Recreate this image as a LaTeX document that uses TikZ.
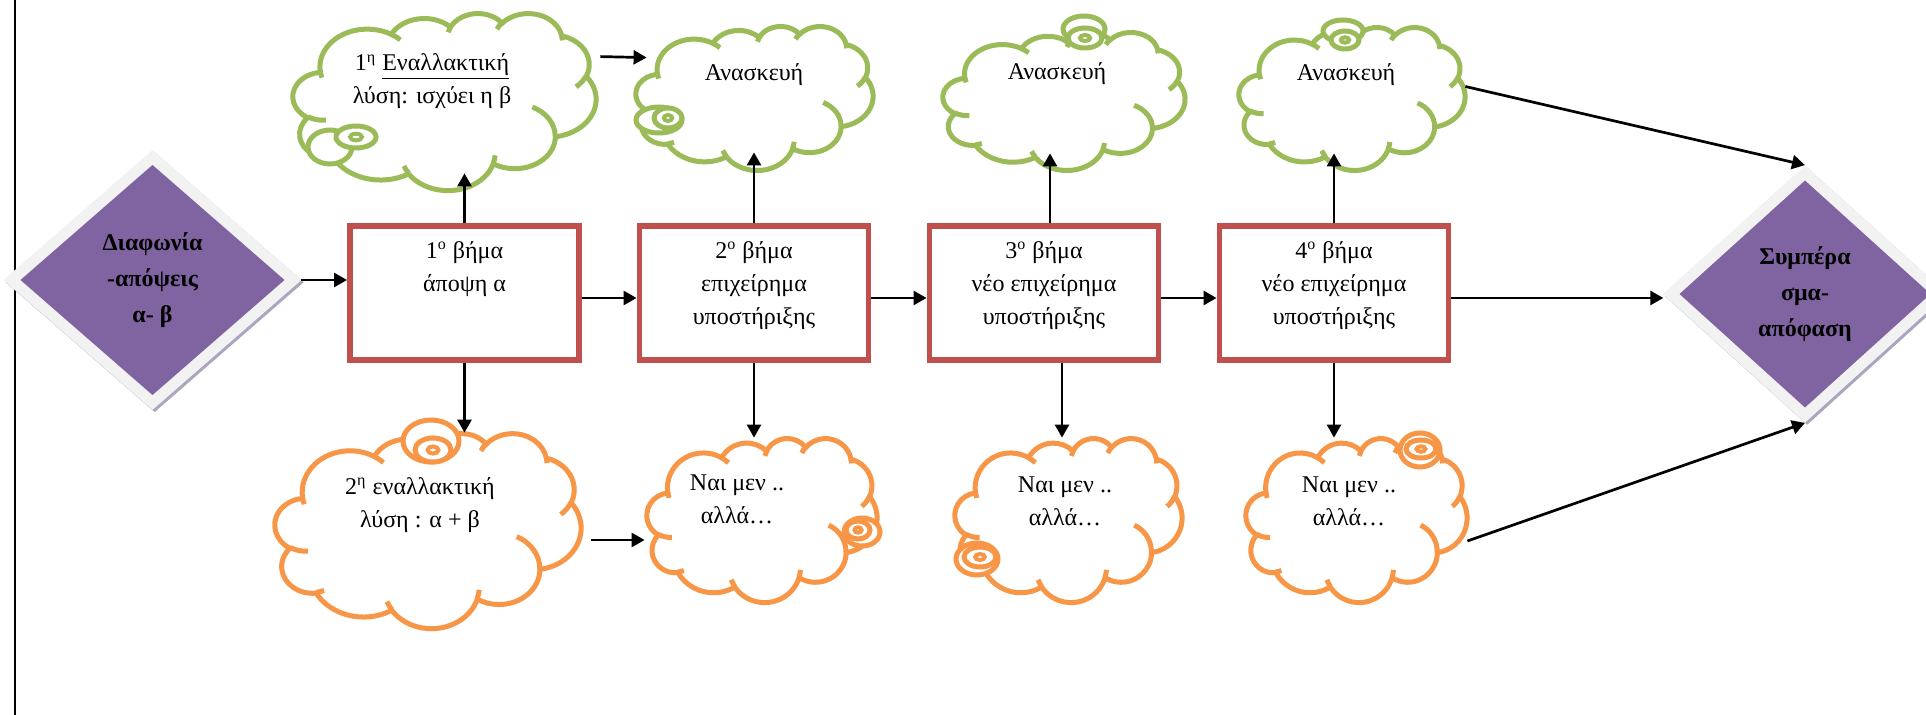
\documentclass[tikz,border=0pt]{standalone}
\usepackage{fontspec}
\setmainfont{Liberation Serif}
\usetikzlibrary{arrows.meta, positioning, shapes.geometric, shadows}

\definecolor{verdenube}{HTML}{9BBB59}
\definecolor{naranjanube}{HTML}{F79646}
\definecolor{rojopaso}{HTML}{C0504D}
\definecolor{moradorombo}{HTML}{8064A2}
\definecolor{bordeclaro}{HTML}{F2F2F2}
\definecolor{sombrarombo}{HTML}{ABA5BF}

% Arco de la nube: radios y ángulo visual -> ángulo paramétrico
\newcommand\arconube[4]{arc[x radius=#1, y radius=#2,
  start angle={atan2(#1*sin(#3),#2*cos(#3))},
  delta angle={mod(atan2(#1*sin(#3+#4),#2*cos(#3+#4))-atan2(#1*sin(#3),#2*cos(#3))+720,360)}]}

% Nube: #1 nombre, #2 color, #3 #4 esquina superior izquierda, #5 ancho, #6 alto
\newcommand\nube[6]{%
  \begin{scope}[shift={(#3,#4)}, x={#5/432*0.5pt}, y={-#6/432*0.5pt}, color=#2, line width=2.5pt]
    % contorno
    \filldraw[fill=white] (39,143.7)
      \arconube{67.53}{91.90}{-190.4875}{123.7805}
      \arconube{53.33}{72.67}{-144.1024}{89.9452}
      \arconube{43.65}{59.45}{-145.8079}{99.7230}
      \arconube{48.57}{65.95}{-130.9861}{117.2417}
      \arconube{53.33}{72.73}{-78.7089}{109.0269}
      \arconube{67.75}{92.20}{-46.2673}{130.2690}
      \arconube{57.85}{78.67}{0.6250}{114.0333}
      \arconube{67.52}{92.15}{22.4516}{115.1726}
      \arconube{77.20}{105.43}{66.2426}{75.7110}
      \arconube{43.60}{59.18}{-274.9421}{146.7356}
      \arconube{43.45}{59.45}{-246.8285}{152.5189} -- cycle;
    % arcos interiores
    \draw (46.93,261.77) \arconube{43.45}{59.45}{86.7420}{26.4295}
      (69.28,348.99) \arconube{43.60}{59.18}{73.6105}{11.4475}
      (164.78,390.90) \arconube{67.52}{92.15}{137.6242}{14.0811}
      (288.27,347.51) \arconube{67.52}{92.15}{6.4533}{15.9984}
      (341.29,229.54) \arconube{57.85}{78.67}{-70.2924}{70.9174}
      (417.98,153.54) \arconube{53.33}{72.73}{30.3180}{27.7515}
      (383.24,54.26) \arconube{48.57}{65.95}{-13.7443}{14.8589}
      (290.78,39.52) \arconube{48.57}{65.95}{-149.1815}{18.1954}
      (221.41,47.20) \arconube{43.65}{59.45}{-163.4943}{17.6864}
      (140.00,51.92) \arconube{67.53}{91.90}{-66.7070}{12.3194}
      (41.27,157.89) \arconube{67.53}{91.90}{157.6544}{11.8582};
  \end{scope}
  \node[minimum width={#5*0.5pt}, minimum height={#6*0.5pt}, inner sep=0pt] (#1) at ({#3+#5/2},{#4+#6/2}) {};}

% Burbujas pequeñas de la nube: color, centro y radios de la grande, centro y radios de la mediana
\newcommand\espiral[9]{%
  \filldraw[draw=#1, fill=white, line width=2.5pt] (#2,#3) ellipse [x radius=#4, y radius=#5];
  \filldraw[draw=#1, fill=white, line width=2.5pt] (#6,#7) ellipse [x radius=#8, y radius=#9];
  \draw[#1, line width=2pt] (#6,#7) ellipse [x radius={0.3*#8}, y radius={0.3*#9}];}

\begin{document}
\begin{tikzpicture}[x=0.5pt, y=-0.5pt, >={Triangle[length=6.5pt,width=7pt]},
    paso/.style={draw=rojopaso, line width=2.85pt, fill=white, minimum width=114.6pt, minimum height=67.2pt, inner sep=0pt},
    textopaso/.style={align=center, inner sep=0pt, font=\fontsize{12}{16.5}\selectfont},
    textonube/.style={align=center, inner sep=0pt, font=\fontsize{12}{16.5}\selectfont},
    rombo/.style={diamond, draw=bordeclaro, fill=moradorombo, line width=5.5pt, inner sep=0pt, align=center,
      font=\bfseries\fontsize{12}{18}\selectfont,
      copy shadow={shadow xshift=1.1pt, shadow yshift=-1.1pt, draw=sombrarombo, fill=sombrarombo}},
    flecha/.style={->, line width=1.35pt}]

  \clip (0,0) rectangle (1926,715);
  \fill[white] (0,0) rectangle (1926,715);

  % --- MARGEN ---
  \draw[line width=1.35pt] (15,0) -- (15,715);

  % --- ROMBOS: INICIO Y FINAL ---
  \node[rombo, minimum width=142.9pt, minimum height=124.8pt] (desacuerdo) at (152.5,280) {Διαφωνία\\-απόψεις\\α- β};
  \node[rombo, minimum width=136.2pt, minimum height=123.4pt] (conclusion) at (1805,294) {Συμπέρα\\σμα-\\απόφαση};

  % --- PASOS ---
  \node[paso] (p1) at (464.5,293) {};
  \node[paso] (p2) at (754,293) {};
  \node[paso] (p3) at (1044,293) {};
  \node[paso] (p4) at (1334,293) {};
  \node[textopaso, below=9pt of p1.north] (p1t) {1\textsuperscript{ο} βήμα\\άποψη α};
  \node[textopaso, below=9pt of p2.north] (p2t) {2\textsuperscript{ο} βήμα\\επιχείρημα\\υποστήριξης};
  \node[textopaso, below=9pt of p3.north] (p3t) {3\textsuperscript{ο} βήμα\\νέο επιχείρημα\\υποστήριξης};
  \node[textopaso, below=9pt of p4.north] (p4t) {4\textsuperscript{ο} βήμα\\νέο επιχείρημα\\υποστήριξης};

  % --- NUBES SUPERIORES (verdes) ---
  \nube{nu1}{verdenube}{293}{13}{303}{177}
  \nube{nu2}{verdenube}{636}{26}{237}{144}
  \nube{nu3}{verdenube}{943}{32}{242}{138}
  \nube{nu4}{verdenube}{1239}{27}{226}{143}
  \espiral{verdenube}{330}{147}{22}{17}{356}{137}{20}{11}
  \espiral{verdenube}{659}{120}{23}{13}{668}{118}{14}{10}
  \espiral{verdenube}{1084}{29}{21}{13}{1085}{38}{17}{10}
  \espiral{verdenube}{1343}{31}{20}{11}{1345}{40}{14}{9}
  \node[textonube] (nu1t) at (432,81.5) {1\textsuperscript{η} \underline{Εναλλακτική}\\λύση: ισχύει η β};
  \node[textonube] (nu2t) at (754,75) {Ανασκευή};
  \node[textonube] (nu3t) at (1057,74) {Ανασκευή};
  \node[textonube] (nu4t) at (1346,75) {Ανασκευή};

  % --- NUBES INFERIORES (naranjas) ---
  \nube{nd1}{naranjanube}{275}{433}{306}{195}
  \nube{nd2}{naranjanube}{647}{438}{230}{164}
  \nube{nd3}{naranjanube}{955}{438}{227}{164}
  \nube{nd4}{naranjanube}{1246}{438}{221}{164}
  \espiral{naranjanube}{431}{441}{28}{21}{433}{450}{18}{12}
  \espiral{naranjanube}{862}{532}{18}{14}{858}{530}{12}{9}
  \espiral{naranjanube}{977}{559}{21}{16}{980}{557}{16}{10}
  \espiral{naranjanube}{1420}{450}{20}{17}{1421}{449}{15}{9}
  \node[textonube] (nd1t) at (420,505) {2\textsuperscript{η} εναλλακτική\\λύση : α + β};
  \node[textonube] (nd2t) at (737,499) {Ναι μεν ..\\αλλά…};
  \node[textonube] (nd3t) at (1065,501) {Ναι μεν ..\\αλλά…};
  \node[textonube] (nd4t) at (1349,501) {Ναι μεν ..\\αλλά…};

  % --- FLECHAS HORIZONTALES ---
  \draw[flecha] (desacuerdo.east) -- (desacuerdo.east -| p1.west);
  \draw[flecha] ([yshift=-2.5pt]p1.east) -- ([yshift=-2.5pt]p2.west);
  \draw[flecha] ([yshift=-2.5pt]p2.east) -- ([yshift=-2.5pt]p3.west);
  \draw[flecha] ([yshift=-2.5pt]p3.east) -- ([yshift=-2.5pt]p4.west);
  \draw[flecha] ([yshift=-2.5pt]p4.east) -- ([yshift=-2.5pt]p4.east -| conclusion.west);

  % --- FLECHAS HACIA LAS NUBES ---
  \draw[flecha, shorten >=-8.5pt] (p1.north) -- (p1.north |- nu1.south);
  \draw[flecha, shorten >=-9pt] (p2.north) -- (p2.north |- nu2.south);
  \draw[flecha, shorten >=-8.5pt] ([xshift=3pt]p3.north) -- ([xshift=3pt]p3.north |- nu3.south);
  \draw[flecha, shorten >=-8.5pt] (p4.north) -- (p4.north |- nu4.south);
  \draw[flecha] (p1.south) -- (p1.south |- nd1.north);
  \draw[flecha] (p2.south) -- (p2.south |- nd2.north);
  \draw[flecha] ([xshift=9pt]p3.south) -- ([xshift=9pt]p3.south |- nd3.north);
  \draw[flecha] (p4.south) -- (p4.south |- nd4.north);

  % --- ENTRE NUBES Y HACIA LA CONCLUSIÓN ---
  \draw[flecha] ([xshift=2pt,yshift=-22pt]nu1.north east) -- ([xshift=5.5pt,yshift=-16pt]nu2.north west);
  \draw[flecha] ([xshift=5pt,yshift=-4.75pt]nd1.east) -- ([xshift=-1pt,yshift=-10pt]nd2.west);
  \draw[flecha] ([yshift=6pt]nu4.east) -- (conclusion.north);
  \draw[flecha] ([yshift=-10.5pt]nd4.east) -- (conclusion.south);

  \useasboundingbox (0,0) rectangle (1926,715);
\end{tikzpicture}
\end{document}
